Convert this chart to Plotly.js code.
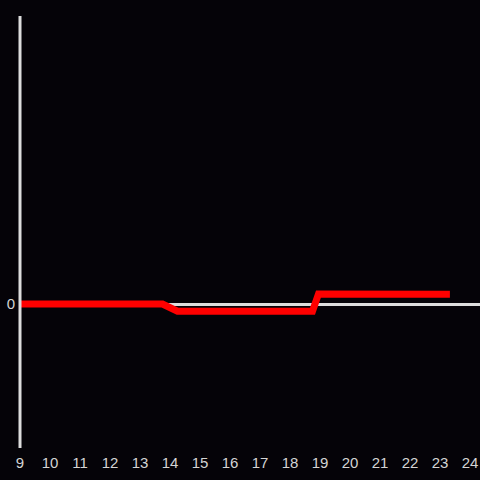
<!DOCTYPE html>
<html><head><meta charset="utf-8">
<script src="https://cdn.plot.ly/plotly-3.0.1.min.js"></script>
<style>html,body{margin:0;padding:0;background:#050308;}</style>
</head><body>
<div id="chart" style="width:480px;height:480px;"></div>
<script>
const hours = [9, 13.75, 14.25, 18.75, 18.95, 20.8, 23.33];
const values = [0, 0, -0.05, -0.05, 0.07, 0.068, 0.068];
const xTicks = [9,10,11,12,13,14,15,16,17,18,19,20,21,22,23,24];

Plotly.newPlot('chart', [{
  x: hours, y: values, type: 'scatter', mode: 'lines',
  line: {color: '#ff0000', width: 7}
}], {
  width: 480, height: 480,
  paper_bgcolor: '#050308', plot_bgcolor: '#050308',
  margin: {l: 20, r: 0, t: 16, b: 32},
  showlegend: false,
  font: {family: 'Liberation Sans, Arial, sans-serif', size: 15, color: '#d4d4d4'},
  xaxis: {range: [9, 24.333], tickvals: xTicks, showgrid: false, zeroline: false,
          showline: false, ticks: '', ticklabelstandoff: 4, tickfont: {size: 15, color: '#d4d4d4'}},
  yaxis: {range: [-1, 2], tickvals: [0], showgrid: false, zeroline: true,
          zerolinecolor: '#dddddd', zerolinewidth: 3, showline: false,
          ticks: '', ticklabelstandoff: 4, tickfont: {size: 15, color: '#d4d4d4'}},
  shapes: [{type: 'line', xref: 'paper', yref: 'paper', x0: 0, x1: 0, y0: 0, y1: 1,
            line: {color: '#dddddd', width: 3}, layer: 'above'}]
}, {displayModeBar: false, staticPlot: true});
</script>
</body></html>
